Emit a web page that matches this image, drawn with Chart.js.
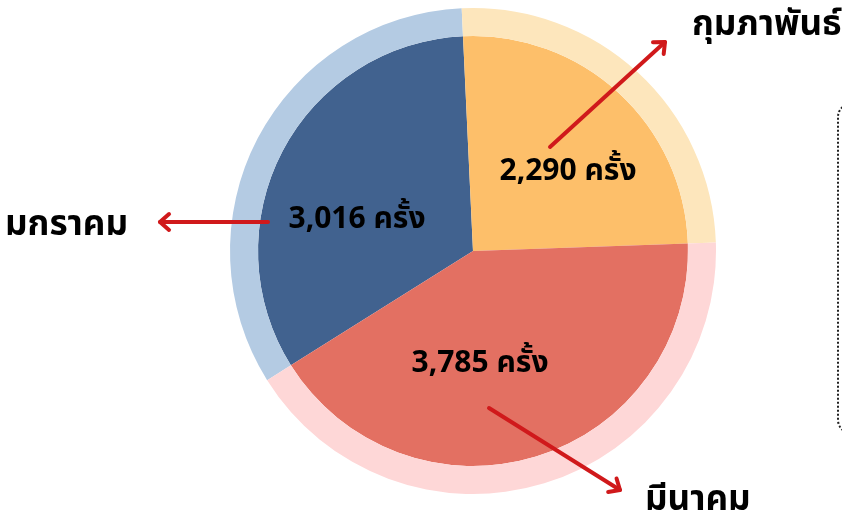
<!DOCTYPE html>
<html>
<head>
<meta charset="utf-8">
<script src="https://cdn.jsdelivr.net/npm/chart.js@4/dist/chart.umd.min.js"></script>
<style>
html,body{margin:0;padding:0;background:#fff;}
#wrap{position:relative;width:842px;height:515px;overflow:hidden;}
#box{position:absolute;left:837px;top:103px;width:60px;height:331px;border:2px dotted #222;border-radius:14px;box-sizing:border-box;}
</style>
</head>
<body>
<div id="wrap">
<canvas id="c" width="842" height="515"></canvas>
<div id="box"></div>
</div>
<script>
const months = ['มกราคม', 'กุมภาพันธ์', 'มีนาคม'];
const counts = [3016, 2290, 3785];
const unit = 'ครั้ง';
const innerColors = ['#41628F', '#FDBF6A', '#E37062'];
const outerColors = ['#B4CBE3', '#FDE6BC', '#FED7D7'];

// annotation layout, offsets from pie centre (scaled by outer radius / 243)
const valueLabelPos = [[-116, -23], [95, -71], [7, 121]];
const arrowFrom = [[-205, -29], [77, -104], [16, 157]];
const arrowTo = [[-313, -29], [192, -209], [147, 239]];
const nameAnchor = [[-345, -16, 'right'], [219, -216, 'left'], [172, 259, 'left']];

const FONT = '"Noto Sans Thai", "Noto Sans", "DejaVu Sans", sans-serif';

const annot = {
  id: 'annot',
  afterDatasetsDraw(chart) {
    const ctx = chart.ctx;
    const meta = chart.getDatasetMeta(0);
    const a0 = meta.data[0];
    const cx = a0.x, cy = a0.y, R = a0.outerRadius;
    const k = R / 243;
    ctx.save();
    ctx.fillStyle = '#000';
    ctx.font = 'bold 30px ' + FONT;
    ctx.textAlign = 'center';
    ctx.textBaseline = 'alphabetic';
    counts.forEach((v, i) => {
      const p = valueLabelPos[i];
      ctx.fillText(v.toLocaleString('en-US') + ' ' + unit, cx + p[0] * k, cy + p[1] * k);
    });
    ctx.strokeStyle = '#D0191B';
    ctx.lineWidth = 4;
    ctx.lineCap = 'round';
    ctx.lineJoin = 'round';
    months.forEach((m, i) => {
      const x1 = cx + arrowFrom[i][0] * k, y1 = cy + arrowFrom[i][1] * k;
      const x2 = cx + arrowTo[i][0] * k, y2 = cy + arrowTo[i][1] * k;
      ctx.beginPath();
      ctx.moveTo(x1, y1);
      ctx.lineTo(x2, y2);
      ctx.stroke();
      const ang = Math.atan2(y2 - y1, x2 - x1);
      const L = 12, W = 0.72;
      ctx.beginPath();
      ctx.moveTo(x2 - L * Math.cos(ang - W), y2 - L * Math.sin(ang - W));
      ctx.lineTo(x2, y2);
      ctx.lineTo(x2 - L * Math.cos(ang + W), y2 - L * Math.sin(ang + W));
      ctx.stroke();
    });
    ctx.fillStyle = '#000';
    ctx.font = 'bold 35px ' + FONT;
    ctx.textBaseline = 'alphabetic';
    months.forEach((m, i) => {
      const n = nameAnchor[i];
      ctx.textAlign = n[2];
      ctx.fillText(m, cx + n[0] * k, cy + n[1] * k);
    });
    ctx.restore();
  }
};

new Chart(document.getElementById('c'), {
  type: 'pie',
  data: {
    labels: months,
    datasets: [
      { data: counts, backgroundColor: outerColors, borderWidth: 0, weight: 28 },
      { data: counts, backgroundColor: innerColors, borderWidth: 0, weight: 215 }
    ]
  },
  options: {
    responsive: false,
    animation: false,
    rotation: -122.1,
    layout: { padding: { left: 230, right: 126, top: 8, bottom: 21 } },
    plugins: { legend: { display: false }, tooltip: { enabled: false } }
  },
  plugins: [annot]
});
</script>
</body>
</html>
